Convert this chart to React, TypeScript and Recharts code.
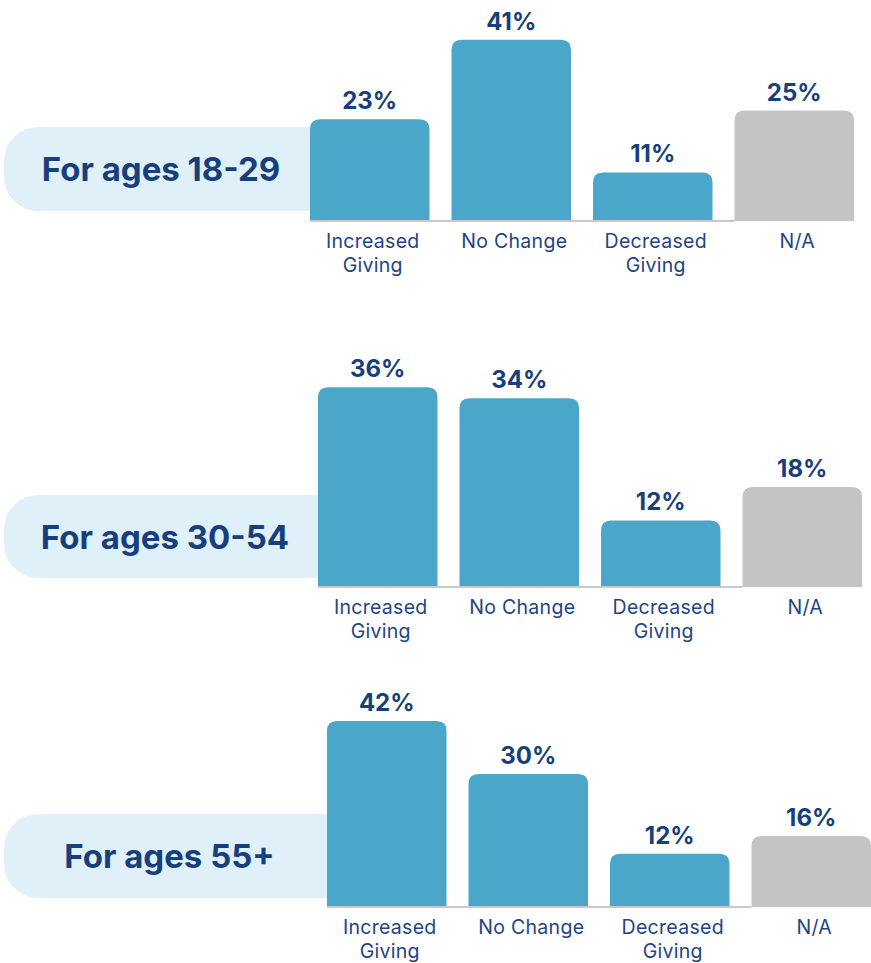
import { BarChart, Bar, XAxis, YAxis, Cell, LabelList } from 'recharts';

const categories = ['Increased Giving', 'No Change', 'Decreased Giving', 'N/A'];
const tickLines = [['Increased', 'Giving'], ['No Change'], ['Decreased', 'Giving'], ['N/A']];
const ages18to29 = [23, 41, 11, 25];
const ages30to54 = [36, 34, 12, 18];
const ages55plus = [42, 30, 12, 16];
const groupLabels = ['For ages 18-29', 'For ages 30-54', 'For ages 55+'];

const BLUE = '#4ba7ca';
const GRAY = '#c4c4c4';
const NAVY = '#173f7d';
const PILL = '#dff0f9';
const barColors = [BLUE, BLUE, BLUE, GRAY];

const PLOT_W = 566;
const BAND = PLOT_W / categories.length;
const HALF_GAP = 11;

// panel layout: where the plot sits on the page
const panels = [
  { values: ages18to29, label: groupLabels[0], top: 0, plotTop: 0, baseline: 221, yMax: 50, left: 299, pill: [127, 211] },
  { values: ages30to54, label: groupLabels[1], top: 340, plotTop: 365, baseline: 587, yMax: 40, left: 307, pill: [495, 578] },
  { values: ages55plus, label: groupLabels[2], top: 660, plotTop: 685.5, baseline: 907, yMax: 50, left: 316, pill: [814, 898] },
];

// rounded-top bar + grey baseline segment running to the next bar
const BarShape = (props: any) => {
  const { x, y, width, height, fill, index } = props;
  const r = Math.min(10, height / 2);
  const d = `M${x},${y + height} L${x},${y + r} Q${x},${y} ${x + r},${y} L${x + width - r},${y} Q${x + width},${y} ${x + width},${y + r} L${x + width},${y + height} Z`;
  const last = index === categories.length - 1;
  return (
    <g>
      <path d={d} fill={fill} />
      {!last && <line x1={x} x2={x + BAND} y1={y + height} y2={y + height} stroke="#c9c9c9" strokeWidth={2} />}
    </g>
  );
};

const CategoryTick = ({ x, y, index }: any) => {
  const lines = tickLines[index] || [];
  const cx = x + 3;
  return (
    <text x={cx} y={y + 19} textAnchor="middle" fill="#1f4486" fontSize={19.5} letterSpacing={0.3}>
      {lines.map((l, i) => (
        <tspan key={i} x={cx} dy={i === 0 ? 0 : 24}>{l}</tspan>
      ))}
    </text>
  );
};

function Panel({ p }: { p: typeof panels[number] }) {
  const data = categories.map((name, i) => ({ name, value: p.values[i] }));
  const plotH = p.baseline - p.plotTop;
  const mTop = p.plotTop - p.top;
  const pillW = p.left + HALF_GAP - 4;
  return (
    <>
      <div
        style={{
          position: 'absolute', left: 4, top: p.pill[0], width: pillW, height: p.pill[1] - p.pill[0],
          background: PILL, borderRadius: '34px 0 0 34px', display: 'flex', alignItems: 'center', justifyContent: 'center',
          boxSizing: 'border-box', paddingLeft: 8,
        }}
      >
        <span style={{ color: NAVY, fontSize: 33, fontWeight: 700, whiteSpace: 'nowrap' }}>{p.label}</span>
      </div>
      <div style={{ position: 'absolute', left: 0, top: p.top }}>
        <BarChart
          width={p.left + PLOT_W}
          height={mTop + plotH + 60}
          data={data}
          margin={{ top: mTop, right: 0, bottom: 0, left: p.left }}
          barSize={BAND - 2 * HALF_GAP}
        >
          <XAxis dataKey="name" axisLine={false} tickLine={false} interval={0} height={60} tick={<CategoryTick />} />
          <YAxis hide domain={[0, p.yMax]} />
          <Bar dataKey="value" isAnimationActive={false} shape={<BarShape />}>
            {data.map((_, i) => <Cell key={i} fill={barColors[i]} />)}
            <LabelList dataKey="value" position="top" offset={10} formatter={(v: any) => `${v}%`}
              style={{ fontSize: 24, fontWeight: 700, fill: NAVY }} />
          </Bar>
        </BarChart>
      </div>
    </>
  );
}

export default function App() {
  return (
    <div style={{ position: 'absolute', left: 0, top: 0, width: 871, height: 963, overflow: 'hidden', background: '#fff', fontFamily: 'Inter, sans-serif' }}>
      {panels.map((p, i) => <Panel key={i} p={p} />)}
    </div>
  );
}
